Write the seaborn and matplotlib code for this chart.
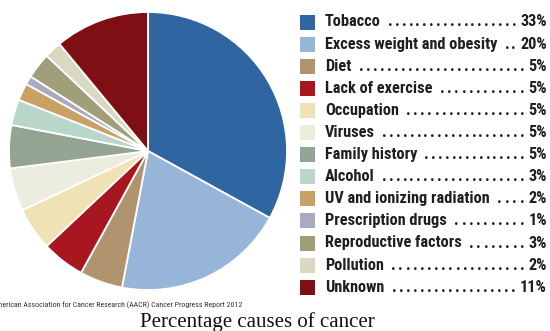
import matplotlib
matplotlib.use("Agg")
import matplotlib.pyplot as plt
import seaborn as sns
from matplotlib import font_manager

causes = ["Tobacco", "Excess weight and obesity", "Diet", "Lack of exercise",
          "Occupation", "Viruses", "Family history", "Alcohol",
          "UV and ionizing radiation", "Prescription drugs",
          "Reproductive factors", "Pollution", "Unknown"]
shares = [33, 20, 5, 5, 5, 5, 5, 3, 2, 1, 3, 2, 11]
colors = ["#2f65a1", "#97b5d9", "#b0936f", "#a8161f", "#f0e2b5", "#eceddf",
          "#93a592", "#b9d6c8", "#c9a165", "#a9a9c1", "#a19f79", "#d9d9c1",
          "#7e1015"]
source = "American Association for Cancer Research (AACR) Cancer Progress Report 2012"
caption = "Percentage causes of cancer"

sns.set_theme(style="white")
palette = sns.color_palette(colors)

names = {f.name for f in font_manager.fontManager.ttflist}
legend_font = "Roboto"
for cand in ["Roboto Condensed", "Liberation Sans Narrow", "Open Sans Condensed", "Roboto"]:
    if cand in names:
        legend_font = cand
        break

W, H = 550, 331
fig = plt.figure(figsize=(W / 100, H / 100), dpi=100)
fig.patch.set_facecolor("white")

cx, cy, r = 148, 151, 139
ax = fig.add_axes([(cx - r) / W, (H - cy - r) / H, 2 * r / W, 2 * r / H])
ax.pie(shares, colors=palette, startangle=90, counterclock=False,
       wedgeprops=dict(edgecolor="white", linewidth=1.3), radius=1.0)
ax.set_xlim(-1, 1)
ax.set_ylim(-1, 1)
ax.set_aspect("equal")
ax.axis("off")


def px(x, y):
    return x / W, 1 - y / H


renderer = fig.canvas.get_renderer()


def fit_size(text, target, **kw):
    t = fig.text(0, 0, text, fontsize=10, **kw)
    w = t.get_window_extent(renderer).width
    t.remove()
    return 10 * target / w


fs = min(12.5, fit_size("Excess weight and obesity", 172, fontweight="bold", family=legend_font))
kw = dict(fontsize=fs, fontweight="bold", family=legend_font, color="#1e1e1e",
          va="center")

y0, step = 22, 22.1
for i, (name, val) in enumerate(zip(causes, shares)):
    y = y0 + i * step
    fig.patches.append(plt.Rectangle(px(300, y + 7.5), 15 / W, 15 / H,
                                     transform=fig.transFigure,
                                     facecolor=palette[i], edgecolor="none"))
    tp = fig.text(*px(547, y), f"{val}%", ha="right", **kw)
    tl = fig.text(*px(325, y), name, ha="left", **kw)
    e_l = tl.get_window_extent(renderer)
    e_p = tp.get_window_extent(renderer)
    start = e_l.x1 + 5
    end = e_p.x0 - 4
    n = max(1, int(round((end - start) / 7.0)))
    pitch = (end - start) / n
    for k in range(n):
        xk = end - k * pitch
        fig.text(xk / W, 1 - y / H, ".", ha="right", **kw)

sfs = fit_size(source, 248, family=legend_font)
fig.text(*px(242, 305), source, ha="right", va="center", fontsize=sfs,
         color="#333333", family=legend_font)
fig.text(*px(257, 322), caption, ha="center", va="center",
         fontsize=15, family="Liberation Serif", color="#111111")

fig.savefig("out.png", dpi=100, facecolor="white")
